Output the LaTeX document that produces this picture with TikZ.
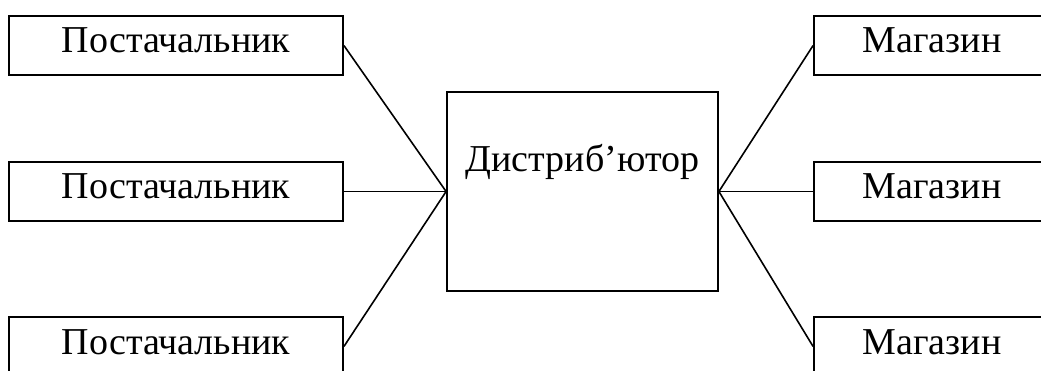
\documentclass[tikz,border=0pt]{standalone}
\usepackage{fontspec}
\setmainfont{Liberation Serif}
\begin{document}
\begin{tikzpicture}[x=1pt,y=-1pt,
  box/.style={draw, line width=1.8pt, inner sep=0pt, font=\fontsize{38}{40}\selectfont},
  lbox/.style={box, minimum width=334pt, text height=37pt, text depth=22pt},
  rbox/.style={box, minimum width=236pt, text height=37pt, text depth=22pt},
  cbox/.style={box, minimum width=271pt, text height=80pt, text depth=119pt},
  link/.style={line width=1.6pt}]
\path[use as bounding box] (0,0) rectangle (1041,371);
\clip (0,0) rectangle (1041,371);
\node[lbox] (s1) at (176,45.5) {Постачальник};
\node[lbox] (s2) at (176,191.5) {Постачальник};
\node[lbox] (s3) at (176,346.5) {Постачальник};
\node[cbox] (d) at (582.5,191.5) {Дистриб’ютор};
\node[rbox] (m1) at (932,45.5) {Магазин};
\node[rbox] (m2) at (932,191.5) {Магазин};
\node[rbox] (m3) at (932,346.5) {Магазин};
\foreach \s in {s1,s2,s3} \draw[link] (\s.east) -- (d.west);
\foreach \m in {m1,m2,m3} \draw[link] (d.east) -- (\m.west);
\end{tikzpicture}
\end{document}
